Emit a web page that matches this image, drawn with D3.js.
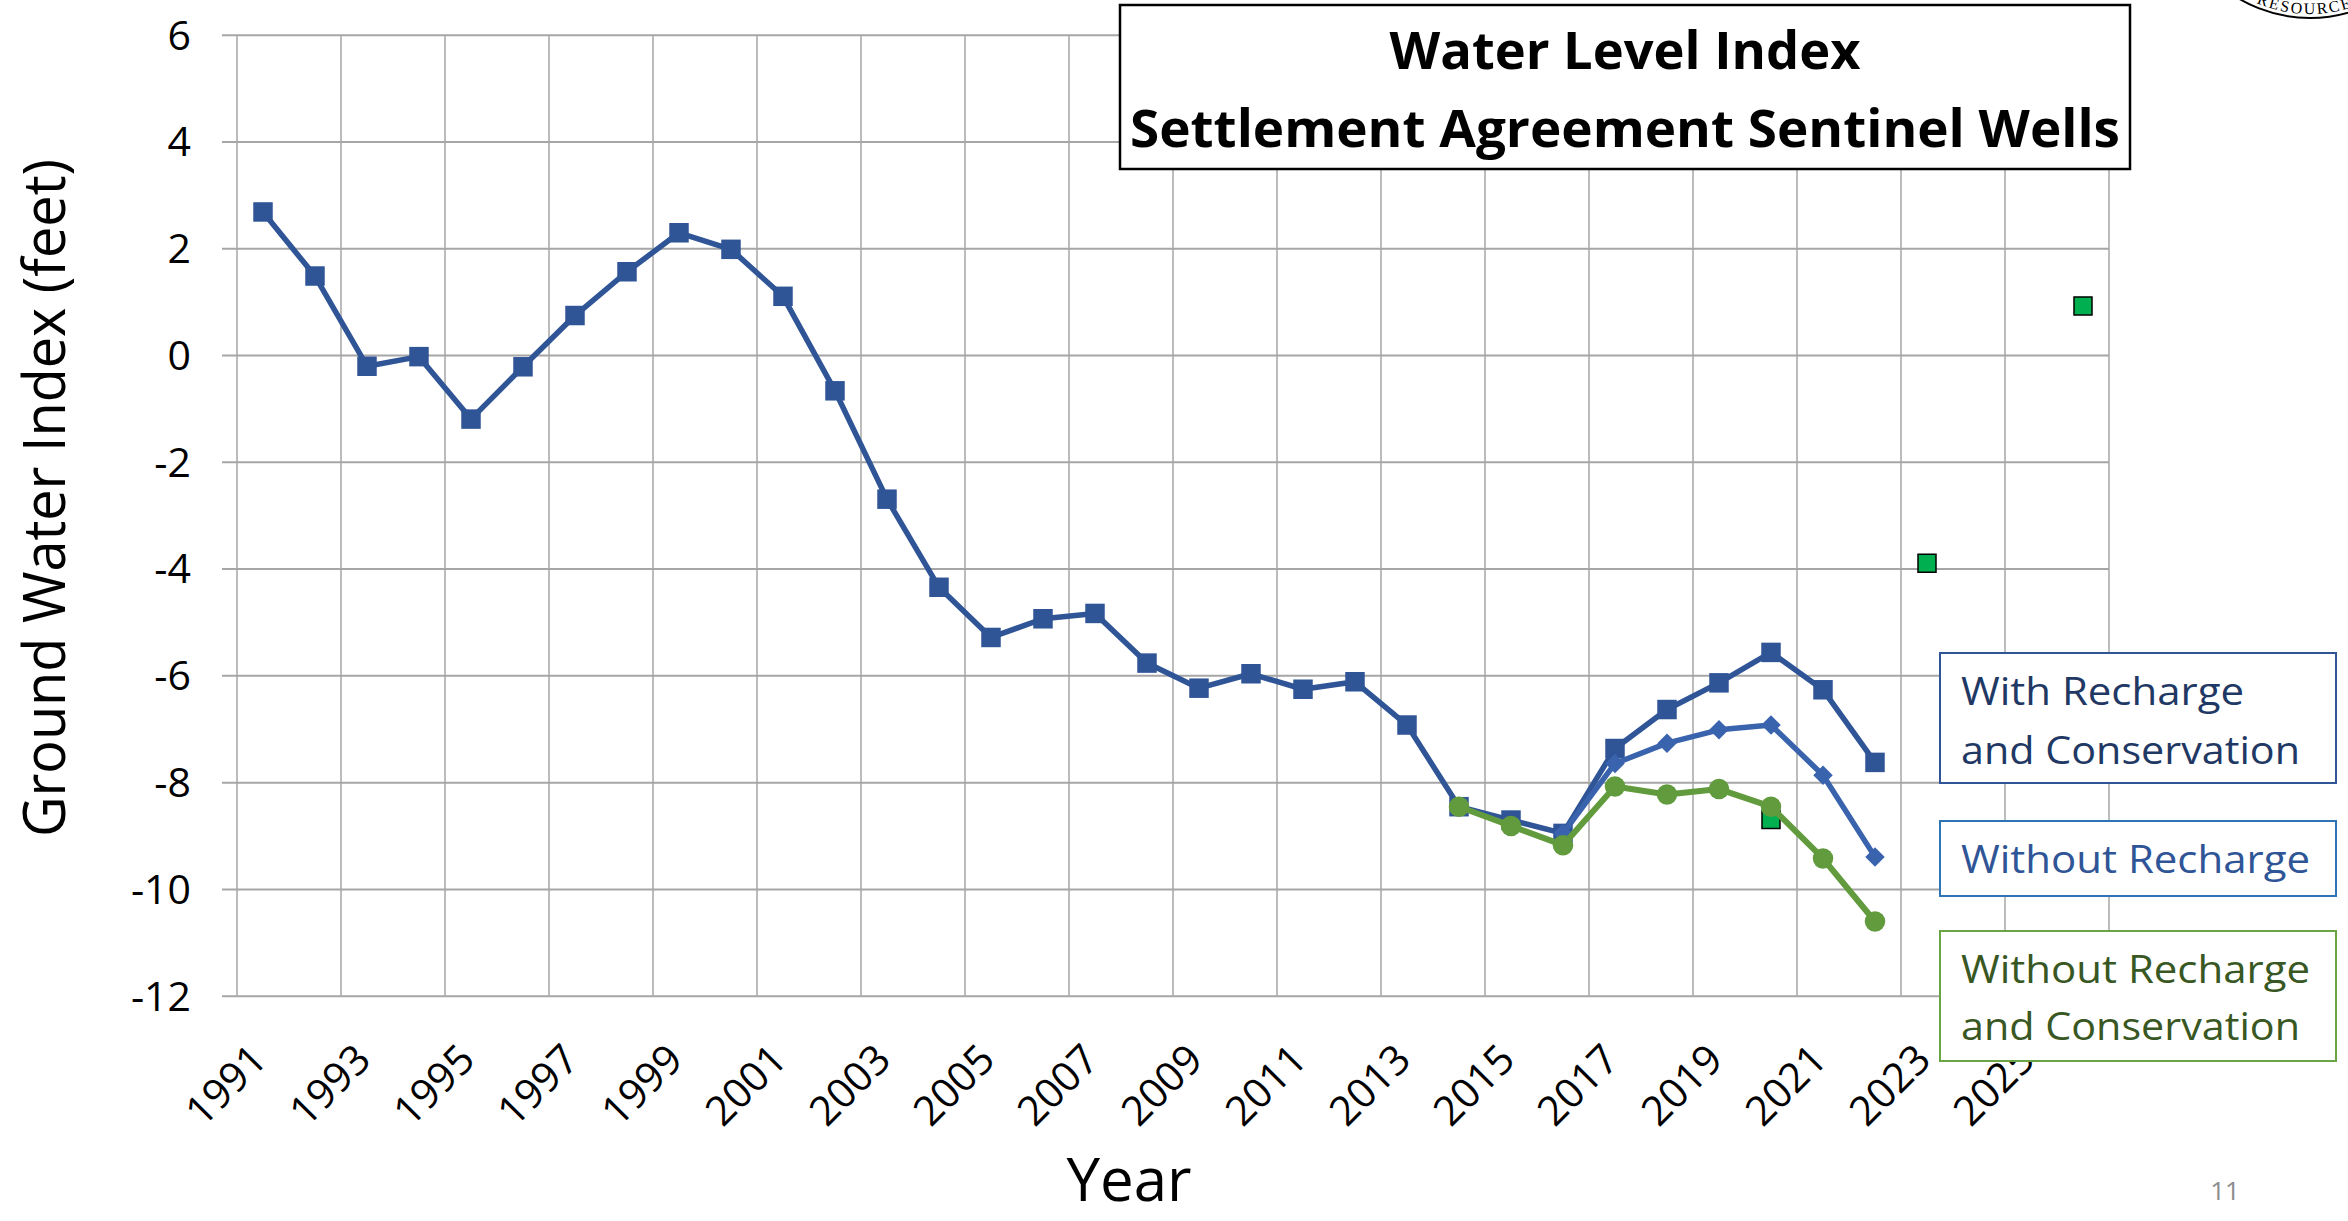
<!DOCTYPE html>
<html>
<head>
<meta charset="utf-8">
<script src="https://cdn.jsdelivr.net/npm/d3@7"></script>
<style>
  html, body { margin: 0; padding: 0; background: #fff; }
  svg { display: block; font-family: "Open Sans", "Noto Sans", sans-serif; }
</style>
</head>
<body>
<svg id="chart" width="2348" height="1221"></svg>
<script>
const WIDTH = 2348;
const HEIGHT = 1221;
const PLOT = { left: 237, right: 2109, top: 34.7, bottom: 995.7 };
const GRID_LEFT = 222;

// categories: one slot per year, labels every second year
const YEARS = d3.range(1991, 2027);
const LABEL_YEARS = [1991, 1993, 1995, 1997, 1999, 2001, 2003, 2005, 2007, 2009,
                     2011, 2013, 2015, 2017, 2019, 2021, 2023, 2025];
const Y_TICKS = [-12, -10, -8, -6, -4, -2, 0, 2, 4, 6];

// With Recharge and Conservation (history + projection), 1991-2022
const RECHARGE_YEARS = d3.range(1991, 2023);
const RECHARGE_VALUES = [2.68, 1.48, -0.21, -0.03, -1.2, -0.22, 0.74, 1.56, 2.29, 1.98,
                         1.1, -0.67, -2.70, -4.35, -5.29, -4.94, -4.84, -5.77, -6.24, -5.97,
                         -6.26, -6.12, -6.93, -8.46, -8.71, -8.96, -7.37, -6.64, -6.14, -5.57,
                         -6.27, -7.63];
// Without Recharge
const NO_RECHARGE_YEARS = [2016, 2017, 2018, 2019, 2020, 2021, 2022];
const NO_RECHARGE_VALUES = [-8.96, -7.65, -7.27, -7.02, -6.93, -7.87, -9.40];
// Without Recharge and Conservation
const NO_CONS_YEARS = [2014, 2015, 2016, 2017, 2018, 2019, 2020, 2021, 2022];
const NO_CONS_VALUES = [-8.46, -8.82, -9.18, -8.08, -8.23, -8.13, -8.46, -9.43, -10.61];
// single green markers
const TARGET_YEARS = [2020, 2023, 2026];
const TARGET_VALUES = [-8.70, -3.90, 0.92];

const BLUE = "#2F5597";
const BLUE_LIGHT = "#3A63AD";
const GREEN = "#619B3D";
const GREEN_BRIGHT = "#00B050";
const GRID_COLOR = "#A6A6A6";

const svg = d3.select("#chart");
svg.append("rect").attr("width", WIDTH).attr("height", HEIGHT).attr("fill", "#fff");

const x = d3.scaleBand().domain(YEARS).range([PLOT.left, PLOT.right]).paddingInner(0).paddingOuter(0);
const y = d3.scaleLinear().domain([-12, 6]).range([PLOT.bottom, PLOT.top]);
const cx = yr => x(yr) + x.bandwidth() / 2;

/**
 * Grid: vertical lines every two categories, horizontal lines from the y axis
 */
const grid = svg.append("g");
grid.selectAll(".vgrid")
    .data(LABEL_YEARS.map(yr => x(yr)).concat([PLOT.right]))
    .enter()
    .append("line")
    .attr("x1", d => d).attr("x2", d => d)
    .attr("y1", PLOT.top).attr("y2", PLOT.bottom)
    .attr("stroke", GRID_COLOR)
    .attr("stroke-width", 1.5);

const yAxis = svg.append("g")
    .attr("transform", `translate(${GRID_LEFT},0)`)
    .call(d3.axisLeft(y)
        .tickValues(Y_TICKS)
        .tickFormat(d => String(d))          // plain hyphen, as in the slide
        .tickSize(-(PLOT.right - GRID_LEFT))
        .tickPadding(31));
yAxis.select(".domain").remove();
yAxis.selectAll(".tick line").attr("stroke", GRID_COLOR).attr("stroke-width", 2);
yAxis.selectAll(".tick text")
    .attr("font-family", "Open Sans")
    .attr("font-size", 41)
    .attr("fill", "#000")
    .attr("dy", "0.35em");

const xAxis = svg.append("g")
    .attr("transform", "translate(0,1062)")
    .call(d3.axisBottom(x).tickValues(LABEL_YEARS).tickSize(0).tickPadding(0));
xAxis.select(".domain").remove();
xAxis.selectAll(".tick text")
    .attr("font-family", "Open Sans")
    .attr("font-size", 41)
    .attr("fill", "#000")
    .attr("y", 0)
    .attr("dy", 0)
    .attr("text-anchor", "end")
    .attr("transform", "translate(6,0) rotate(-45)");

/**
 * Series lines and markers
 */
const line = d3.line().x(d => cx(d[0])).y(d => y(d[1]));
const zipSeries = (years, values) => years.map((yr, i) => [yr, values[i]]);

function addSeries(data, color, width, symbol, size, rotate) {
    const g = svg.append("g");
    if (data.length > 1) {
        g.append("path")
            .datum(data)
            .attr("d", line)
            .attr("fill", "none")
            .attr("stroke", color)
            .attr("stroke-width", width)
            .attr("stroke-linejoin", "round");
    }
    g.selectAll("path.marker")
        .data(data)
        .enter()
        .append("path")
        .attr("class", "marker")
        .attr("d", d3.symbol().type(symbol).size(size))
        .attr("transform", d => `translate(${cx(d[0])},${y(d[1])}) rotate(${rotate})`)
        .attr("fill", color);
    return g;
}

addSeries(zipSeries(RECHARGE_YEARS, RECHARGE_VALUES), BLUE, 5.5, d3.symbolSquare, 380, 0);
addSeries(zipSeries(NO_RECHARGE_YEARS, NO_RECHARGE_VALUES), BLUE_LIGHT, 5.5, d3.symbolSquare, 190, 45);

svg.append("g")
    .selectAll("path")
    .data(zipSeries(TARGET_YEARS, TARGET_VALUES))
    .enter()
    .append("path")
    .attr("d", d3.symbol().type(d3.symbolSquare).size(324))
    .attr("transform", d => `translate(${cx(d[0])},${y(d[1])})`)
    .attr("fill", GREEN_BRIGHT)
    .attr("stroke", "#000")
    .attr("stroke-width", 1.5);

addSeries(zipSeries(NO_CONS_YEARS, NO_CONS_VALUES), GREEN, 6, d3.symbolCircle, 330, 0);

/**
 * Axis titles
 */
svg.append("text")
    .attr("x", 1129).attr("y", 1201)
    .attr("text-anchor", "middle")
    .attr("font-size", 60)
    .text("Year");

svg.append("text")
    .attr("transform", "translate(65,498) rotate(-90)")
    .attr("text-anchor", "middle")
    .attr("font-size", 58)
    .attr("textLength", 678)
    .attr("lengthAdjust", "spacingAndGlyphs")
    .text("Ground Water Index (feet)");

/**
 * Title box
 */
const title = svg.append("g");
title.append("rect")
    .attr("x", 1120).attr("y", 5).attr("width", 1010).attr("height", 164)
    .attr("fill", "#fff").attr("stroke", "#000").attr("stroke-width", 2.5);
title.append("text")
    .attr("x", 1625).attr("y", 68.5)
    .attr("text-anchor", "middle").attr("font-weight", 700).attr("font-size", 52.5)
    .attr("textLength", 471).attr("lengthAdjust", "spacingAndGlyphs")
    .text("Water Level Index");
title.append("text")
    .attr("x", 1625).attr("y", 147)
    .attr("text-anchor", "middle").attr("font-weight", 700).attr("font-size", 52.5)
    .attr("textLength", 990).attr("lengthAdjust", "spacingAndGlyphs")
    .text("Settlement Agreement Sentinel Wells");

/**
 * Legend boxes at the right
 */
const LEGEND = [
    { y: 653, h: 130, stroke: BLUE, color: "#1F3864",
      lines: [["With Recharge", 705, 283], ["and Conservation", 764, 339]] },
    { y: 821, h: 75, stroke: "#2E75B6", color: BLUE,
      lines: [["Without Recharge", 873, 349]] },
    { y: 931, h: 130, stroke: "#6AA544", color: "#385723",
      lines: [["Without Recharge", 983, 349], ["and Conservation", 1040, 339]] }
];
const legend = svg.append("g");
LEGEND.forEach(box => {
    legend.append("rect")
        .attr("x", 1940).attr("y", box.y).attr("width", 396).attr("height", box.h)
        .attr("fill", "#fff").attr("stroke", box.stroke).attr("stroke-width", 2);
    box.lines.forEach(([label, base, len]) => {
        legend.append("text")
            .attr("x", 1961).attr("y", base)
            .attr("font-size", 39).attr("fill", box.color)
            .attr("textLength", len).attr("lengthAdjust", "spacingAndGlyphs")
            .text(label);
    });
});

// page number
svg.append("text")
    .attr("x", 2225).attr("y", 1200)
    .attr("text-anchor", "middle").attr("font-size", 26).attr("fill", "#8C8C8C")
    .text("11");

// corner of the seal, cut by the page edge
const SEAL = { cx: 2310, cy: -122, r: 140 };
const seal = svg.append("g");
seal.append("circle")
    .attr("cx", SEAL.cx).attr("cy", SEAL.cy).attr("r", SEAL.r)
    .attr("fill", "none").attr("stroke", "#000").attr("stroke-width", 2);
const tr = SEAL.r - 4;
seal.append("path")
    .attr("id", "sealpath")
    .attr("d", `M ${SEAL.cx - tr} ${SEAL.cy} A ${tr} ${tr} 0 0 0 ${SEAL.cx + tr} ${SEAL.cy}`)
    .attr("fill", "none");
seal.append("text")
    .attr("font-family", "Liberation Serif")
    .attr("font-size", 16)
    .attr("letter-spacing", 2)
    .attr("text-anchor", "middle")
    .append("textPath")
    .attr("href", "#sealpath")
    .attr("startOffset", "50%")
    .text("RESOURCES");
</script>
</body>
</html>
